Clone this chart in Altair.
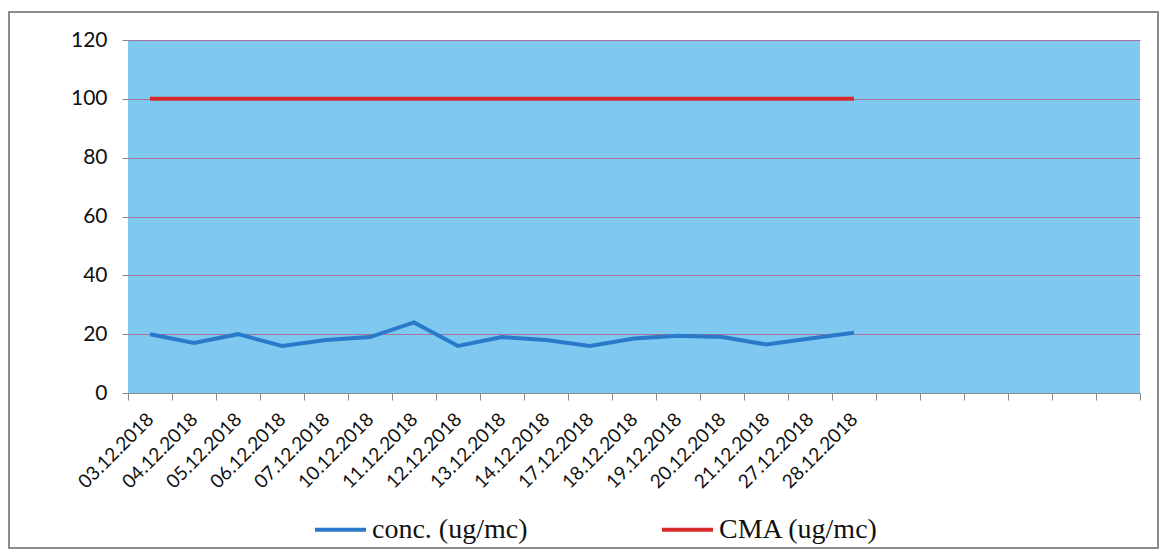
import altair as alt
import pandas as pd

dates = ["03.12.2018", "04.12.2018", "05.12.2018", "06.12.2018", "07.12.2018",
         "10.12.2018", "11.12.2018", "12.12.2018", "13.12.2018", "14.12.2018",
         "17.12.2018", "18.12.2018", "19.12.2018", "20.12.2018", "21.12.2018",
         "27.12.2018", "28.12.2018"]
conc = [20, 17, 20, 16, 18, 19, 24, 16, 19, 18, 16, 18.5, 19.5, 19, 16.5, 18.5, 20.5]
cma = [100] * len(dates)
empty_slots = ["e1", "e2", "e3", "e4", "e5", "e6"]
series_names = ["conc. (ug/mc)", "CMA (ug/mc)"]
series_colors = ["#2a7acc", "#d62a2a"]

rows = []
for d, c, m in zip(dates, conc, cma):
    rows.append({"date": d, "value": c, "series": series_names[0]})
    rows.append({"date": d, "value": m, "series": series_names[1]})
df = pd.DataFrame(rows)

W, H = 1012, 353

x_enc = alt.X(
    "date:N",
    sort=None,
    scale=alt.Scale(type="band", domain=dates + empty_slots, paddingInner=0, paddingOuter=0),
    axis=alt.Axis(
        title=None,
        labelAngle=-45,
        labelAlign="right",
        labelBaseline="middle",
        labelFont="Lato",
        labelFontSize=19,
        labelColor="#111111",
        labelPadding=16,
        labelExpr="isString(datum.value) && indexof(datum.value, 'e') == 0 ? '' : datum.label",
        tickBand="extent",
        tickSize=7,
        tickColor="#8a8a8a",
        domainColor="#8a8a8a",
        grid=False,
    ),
)

y_enc = alt.Y(
    "value:Q",
    scale=alt.Scale(domain=[0, 120], nice=False),
    axis=alt.Axis(
        title=None,
        values=[0, 20, 40, 60, 80, 100, 120],
        labelFont="Lato",
        labelFontSize=21,
        labelColor="#111111",
        labelPadding=15,
        tickSize=6,
        tickColor="#8a8a8a",
        domain=False,
        grid=True,
        gridColor="#a8709a",
        gridWidth=1,
    ),
)

lines = alt.Chart(df).mark_line(strokeWidth=4).encode(
    x=x_enc,
    y=y_enc,
    color=alt.Color(
        "series:N",
        sort=series_names,
        scale=alt.Scale(domain=series_names, range=series_colors),
        legend=alt.Legend(
            title=None,
            orient="none",
            direction="horizontal",
            legendX=185,
            legendY=462,
            symbolType="stroke",
            symbolSize=2600,
            symbolStrokeWidth=4,
            labelFont="Liberation Serif",
            labelFontSize=28,
            labelColor="#111111",
            columnPadding=126,
        ),
    ),
)

frame = alt.Chart(pd.DataFrame({"k": [0]})).mark_rect(
    fillOpacity=0, stroke="#8c8c8c", strokeWidth=2
).encode(
    x=alt.value(-119), x2=alt.value(1030), y=alt.value(-28), y2=alt.value(508)
)

chart = alt.layer(lines, frame).properties(
    width=W,
    height=H,
    autosize=alt.AutoSizeParams(type="none"),
    padding={"left": 120, "top": 32, "right": 24, "bottom": 157},
    background="white",
).configure_view(
    fill="#7fc9f0",
    stroke=None,
)

chart.save("out.html", embed_options={"renderer": "svg", "actions": False})
